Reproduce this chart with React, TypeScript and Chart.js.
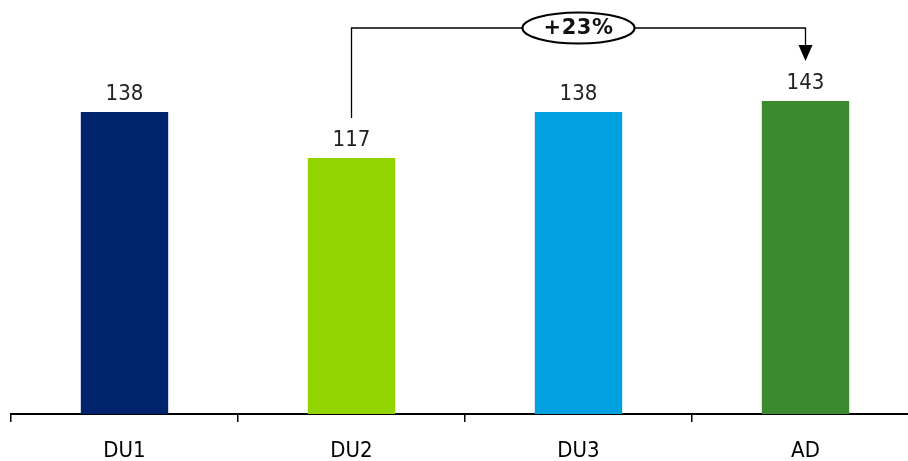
import React, { useEffect, useRef } from "react";
import { Chart, registerables } from "chart.js";

Chart.register(...registerables);

const categories = ["DU1", "DU2", "DU3", "AD"];
const values = [138, 117, 138, 143];
const barColors = ["#00236E", "#92D400", "#00A1DE", "#3B8A2E"];
const comparison = { from: 1, to: 3, label: "+23%" };

const FONT = "'DejaVu Sans Condensed', 'DejaVu Sans', Verdana, sans-serif";
const BOLD_FONT = "'DejaVu Sans', Verdana, sans-serif";

const overlayPlugin = {
  id: "overlay",
  afterDatasetsDraw(chart: any) {
    const { ctx, chartArea } = chart;
    const meta = chart.getDatasetMeta(0);
    const xs = chart.scales.x;
    ctx.save();
    // value labels
    ctx.fillStyle = "#222";
    ctx.font = `22px ${FONT}`;
    ctx.textAlign = "center";
    ctx.textBaseline = "alphabetic";
    meta.data.forEach((bar: any, i: number) => {
      ctx.fillText(String(values[i]), bar.x, bar.y - 12);
    });
    // comparison bracket
    const fromBar = meta.data[comparison.from];
    const toBar = meta.data[comparison.to];
    const x1 = xs.getPixelForValue(comparison.from);
    const x2 = xs.getPixelForValue(comparison.to);
    const yTop = chartArea.top + 8;
    const y1 = fromBar.y - 40;
    const y2 = toBar.y - 40;
    ctx.strokeStyle = "#000";
    ctx.lineWidth = 1.3;
    ctx.beginPath();
    ctx.moveTo(x1, y1);
    ctx.lineTo(x1, yTop);
    ctx.lineTo(x2, yTop);
    ctx.lineTo(x2, y2 - 14);
    ctx.stroke();
    ctx.fillStyle = "#000";
    ctx.beginPath();
    ctx.moveTo(x2 - 7, y2 - 16);
    ctx.lineTo(x2 + 7, y2 - 16);
    ctx.lineTo(x2, y2);
    ctx.closePath();
    ctx.fill();
    // ellipse label
    const cx = (x1 + x2) / 2;
    ctx.beginPath();
    ctx.ellipse(cx, yTop, 56, 15.5, 0, 0, Math.PI * 2);
    ctx.fillStyle = "#fff";
    ctx.fill();
    ctx.lineWidth = 2.2;
    ctx.stroke();
    ctx.fillStyle = "#111";
    ctx.font = `bold 21px ${BOLD_FONT}`;
    (ctx as any).letterSpacing = "0.5px";
    ctx.textBaseline = "middle";
    ctx.fillText(comparison.label, cx, yTop + 1);
    ctx.restore();
  },
};

export default function App() {
  const ref = useRef<HTMLCanvasElement>(null);
  useEffect(() => {
    document.body.style.margin = "0";
    document.body.style.overflow = "hidden";
    const chart = new Chart(ref.current!, {
      type: "bar",
      data: {
        labels: categories,
        datasets: [
          {
            data: values,
            backgroundColor: barColors,
            barPercentage: 0.385,
            categoryPercentage: 1,
          },
        ],
      },
      options: {
        responsive: false,
        animation: false,
        layout: { padding: { top: 20, left: 11, right: 1, bottom: 0 } },
        plugins: { legend: { display: false }, tooltip: { enabled: false } },
        scales: {
          x: {
            offset: true,
            afterFit: (s: any) => {
              s.height = 47;
            },
            border: { display: true, color: "#000", width: 2 },
            grid: {
              offset: true,
              drawOnChartArea: false,
              drawTicks: true,
              tickLength: 8,
              color: "#000",
              lineWidth: 1.5,
            },
            ticks: {
              color: "#000",
              padding: 16,
              font: { family: FONT, size: 22 },
            },
          },
          y: { display: false, min: 0, max: 180 },
        },
      },
      plugins: [overlayPlugin],
    });
    return () => chart.destroy();
  }, []);
  return (
    <div
      style={{
        position: "fixed",
        left: 0,
        top: 0,
        width: 908,
        height: 461,
        overflow: "hidden",
        background: "#fff",
      }}
    >
      <canvas ref={ref} width={920} height={461} />
    </div>
  );
}
